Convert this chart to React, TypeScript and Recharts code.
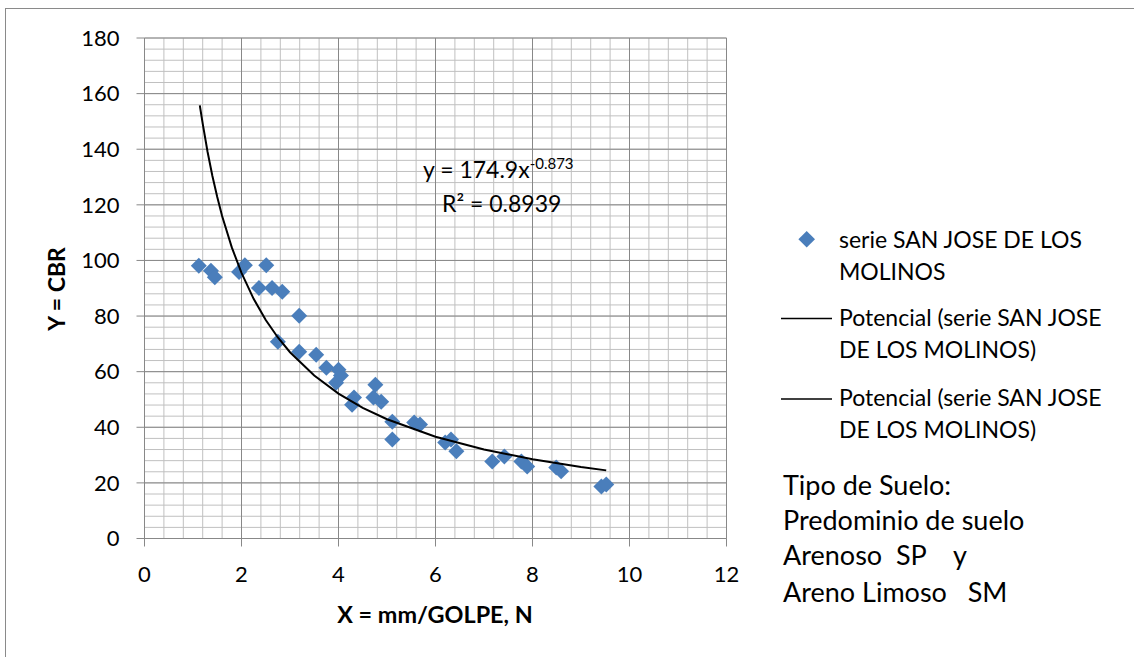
import React from 'react';
import { ScatterChart, Scatter, XAxis, YAxis, ReferenceLine } from 'recharts';

// Measured points: X = mm/GOLPE, Y = CBR
const pointX = [1.12, 1.37, 1.45, 1.95, 2.07, 2.51, 2.36, 2.63, 2.84, 3.19, 2.75, 3.19, 3.54, 3.75, 4.0, 4.05, 3.95, 4.32, 4.28, 4.76, 4.72, 4.88, 5.11, 5.11, 5.56, 5.68, 6.2, 6.32, 6.43, 7.17, 7.42, 7.77, 7.89, 8.49, 8.59, 9.42, 9.52];
const pointY = [98.1, 96.3, 94.0, 95.8, 98.3, 98.3, 90.1, 90.1, 88.7, 80.1, 70.8, 67.2, 66.1, 61.4, 60.7, 58.6, 56.0, 50.7, 48.1, 55.3, 50.7, 49.2, 42.0, 35.6, 41.7, 41.0, 34.5, 35.6, 31.4, 27.7, 29.5, 27.7, 25.9, 25.5, 24.2, 18.7, 19.4];

// Power trend line
const trendX = [1.14, 1.2, 1.3, 1.4, 1.5, 1.6, 1.8, 2, 2.25, 2.5, 2.75, 3, 3.5, 4, 4.5, 5, 6, 7, 8, 9, 9.52];
const trendY = [155.8, 149.2, 139.1, 130.4, 122.8, 116.0, 104.7, 95.5, 86.2, 78.6, 72.3, 67.0, 58.6, 52.1, 47.0, 42.9, 36.6, 32.0, 28.5, 25.7, 24.5];

const xTicks = [0, 2, 4, 6, 8, 10, 12];
const yTicks = [0, 20, 40, 60, 80, 100, 120, 140, 160, 180];
const xMinorStep = 0.4;
const yMinorStep = 4;

const points = pointX.map((x, i) => ({ x, y: pointY[i] }));
const trend = trendX.map((x, i) => ({ x, y: trendY[i] }));

const xMinor: number[] = [];
for (let i = 0; i <= Math.round(12 / xMinorStep); i++) xMinor.push(+(i * xMinorStep).toFixed(2));
const yMinor: number[] = [];
for (let i = 0; i <= Math.round(180 / yMinorStep); i++) yMinor.push(i * yMinorStep);

const FONT = 'Lato, "Open Sans", sans-serif';
const BLUE = '#4A7EBB';
const MINOR = '#c0c0c0';
const MAJOR = '#888888';

const Diamond = (props: any) => {
  const { cx, cy } = props;
  if (cx == null || cy == null) return null;
  const r = 8;
  return <polygon points={`${cx},${cy - r} ${cx + r},${cy} ${cx},${cy + r} ${cx - r},${cy}`} fill={BLUE} />;
};

export default function App() {
  const tickStyle = { fill: '#000', fontSize: 22, fontFamily: FONT };
  return (
    <div style={{ position: 'absolute', left: 0, top: 0, width: 1134, height: 657, overflow: 'hidden', background: '#fff' }}>
      <div style={{ position: 'absolute', left: 5, top: 8, width: 1129, height: 649, borderLeft: '1.5px solid #8a8a8a', borderTop: '1.5px solid #8a8a8a', boxSizing: 'border-box' }} />
      <div style={{ position: 'absolute', left: 0, top: 0 }}>
        <ScatterChart width={1134} height={657} margin={{ top: 38, left: 84.5, right: 407.5, bottom: 88.5 }}>
          <XAxis
            type="number"
            dataKey="x"
            domain={[0, 12]}
            ticks={xTicks}
            height={30}
            tickSize={8}
            tickMargin={20}
            axisLine={{ stroke: MAJOR }}
            tickLine={{ stroke: MAJOR }}
            tick={tickStyle}
            allowDataOverflow
          />
          <YAxis
            type="number"
            dataKey="y"
            domain={[0, 180]}
            ticks={yTicks}
            width={60}
            tickSize={8}
            tickMargin={17}
            axisLine={{ stroke: MAJOR }}
            tickLine={{ stroke: MAJOR }}
            tick={tickStyle}
            allowDataOverflow
          />
          {xMinor.map((v) => (
            <ReferenceLine key={'xm' + v} x={v} stroke={MINOR} strokeWidth={1} />
          ))}
          {yMinor.map((v) => (
            <ReferenceLine key={'ym' + v} y={v} stroke={MINOR} strokeWidth={1} />
          ))}
          {xTicks.map((v) => (
            <ReferenceLine key={'xM' + v} x={v} stroke={MAJOR} strokeWidth={1} />
          ))}
          {yTicks.map((v) => (
            <ReferenceLine key={'yM' + v} y={v} stroke={MAJOR} strokeWidth={1} />
          ))}
          <Scatter data={points} shape={Diamond} isAnimationActive={false} />
          <Scatter
            data={trend}
            line={{ stroke: '#000', strokeWidth: 2 }}
            lineType="joint"
            shape={() => null}
            isAnimationActive={false}
          />
        </ScatterChart>
      </div>
      <svg width={1134} height={657} style={{ position: 'absolute', left: 0, top: 0, pointerEvents: 'none' }} fontFamily={FONT}>
        <text transform="translate(65,289) rotate(-90)" textAnchor="middle" fontSize={23} fontWeight="bold" fill="#000">Y = CBR</text>
        <text x={435} y={623} textAnchor="middle" fontSize={23.4} fontWeight="bold" fill="#000">X = mm/GOLPE, N</text>
        <text x={423} y={178} fontSize={23} fill="#000">
          y = 174.9x<tspan fontSize={15} dy={-9}>-0.873</tspan>
        </text>
        <text x={442} y={212} fontSize={23} fill="#000">R² = 0.8939</text>

        <polygon points="806.7,231 815,239.3 806.7,247.6 798.4,239.3" fill={BLUE} />
        <line x1={781} x2={832} y1={318.5} y2={318.5} stroke="#000" strokeWidth={1.5} />
        <line x1={781} x2={832} y1={399} y2={399} stroke="#000" strokeWidth={1.5} />
        <g fontSize={23} fill="#000">
          <text x={839} y={248}>serie SAN JOSE DE LOS</text>
          <text x={839} y={280}>MOLINOS</text>
          <text x={839} y={326}>Potencial (serie SAN JOSE</text>
          <text x={839} y={358}>DE LOS MOLINOS)</text>
          <text x={839} y={406}>Potencial (serie SAN JOSE</text>
          <text x={839} y={438}>DE LOS MOLINOS)</text>
        </g>
        <g fontSize={27} fill="#000">
          <text x={783} y={495} xmlSpace="preserve">Tipo de Suelo:</text>
          <text x={783} y={530} xmlSpace="preserve">Predominio de suelo</text>
          <text x={783} y={565} xmlSpace="preserve" style={{ whiteSpace: 'pre' }}>Arenoso  SP    y</text>
          <text x={783} y={602} xmlSpace="preserve" style={{ whiteSpace: 'pre' }}>Areno Limoso   SM</text>
        </g>
      </svg>
    </div>
  );
}
